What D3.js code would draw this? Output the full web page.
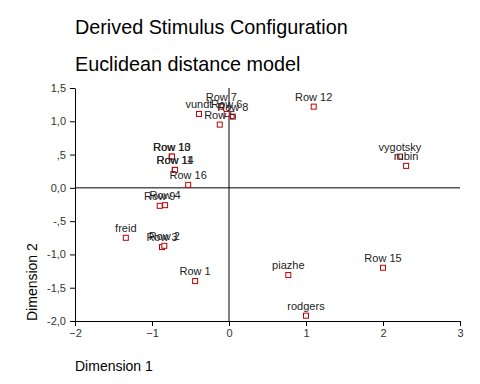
<!DOCTYPE html>
<html><head><meta charset="utf-8">
<script src="https://cdn.jsdelivr.net/npm/d3@7"></script>
<style>body{margin:0;background:#fff}svg{display:block}text{font-family:"Liberation Sans",Arial,sans-serif}</style>
</head><body>
<svg id="c" width="480" height="384"></svg>
<script>
const labels = ["Row 12","vygotsky","rubin","Row 15","piazhe","rodgers","Row 1","freid","Row 3","Row 2","Row 9","Row 4","Row 16","Row 13","Row 10","Row 11","Row 14","Row 7","Row 6","Row 8","Row 5","vundt"];
const dim1 = [1.10,2.22,2.30,2.00,0.77,1.00,-0.44,-1.34,-0.87,-0.84,-0.90,-0.83,-0.53,-0.745,-0.74,-0.705,-0.70,-0.10,-0.03,0.05,-0.12,-0.39];
const dim2 = [1.22,0.47,0.33,-1.20,-1.31,-1.92,-1.40,-0.75,-0.89,-0.87,-0.27,-0.26,0.045,0.47,0.47,0.27,0.27,1.22,1.11,1.07,0.95,1.11];
const xTicks = [-2,-1,0,1,2,3];
const yTicks = [1.5,1.0,0.5,0.0,-0.5,-1.0,-1.5,-2.0];
const yTickLabels = ["1,5","1,0",",5","0,0","-,5","-1,0","-1,5","-2,0"];

const svg = d3.select("#c");
const x = d3.scaleLinear().domain([-2,3]).range([75,460]);
const y = d3.scaleLinear().domain([-2,1.5]).range([321,88]);

svg.append("text").attr("x",75).attr("y",34).attr("font-size",19.8).attr("fill","#000").text("Derived Stimulus Configuration");
svg.append("text").attr("x",75).attr("y",71).attr("font-size",19.8).attr("fill","#000").text("Euclidean distance model");

// zero lines
svg.append("line").attr("x1",x(-2)).attr("x2",x(3)).attr("y1",y(0)).attr("y2",y(0)).attr("stroke","#000");
svg.append("line").attr("x1",x(0)).attr("x2",x(0)).attr("y1",y(1.5)).attr("y2",y(-2)).attr("stroke","#000");

const xa = svg.append("g").attr("transform",`translate(0,${y(-2)})`)
  .call(d3.axisBottom(x).tickValues(xTicks).tickSize(5).tickSizeOuter(0).tickFormat(d3.format("d")));
const ya = svg.append("g").attr("transform",`translate(${x(-2)},0)`)
  .call(d3.axisLeft(y).tickValues(yTicks).tickSize(5).tickSizeOuter(0).tickFormat((d,i)=>yTickLabels[i]));
[xa,ya].forEach(a=>{
  a.selectAll("text").attr("font-size",11).attr("fill","#333").attr("font-family","Liberation Sans, Arial, sans-serif");
  a.selectAll("path,line").attr("stroke","#000");
});
ya.selectAll("text").attr("dx",-1);

const pts = svg.append("g");
labels.forEach((l,i)=>{
  pts.append("rect").attr("x",x(dim1[i])-2.5).attr("y",y(dim2[i])-2.5).attr("width",5).attr("height",5)
    .attr("fill","#fff").attr("stroke","#c00000").attr("stroke-width",1);
});
labels.forEach((l,i)=>{
  pts.append("text").attr("x",x(dim1[i])).attr("y",y(dim2[i])-6).attr("text-anchor","middle")
    .attr("font-size",11).attr("fill","#222").text(l);
});

svg.append("text").attr("x",75).attr("y",371).attr("font-size",14).attr("fill","#000").text("Dimension 1");
svg.append("text").attr("transform",`translate(37,321) rotate(-90)`).attr("font-size",14).attr("fill","#000").text("Dimension 2");
</script>
</body></html>
